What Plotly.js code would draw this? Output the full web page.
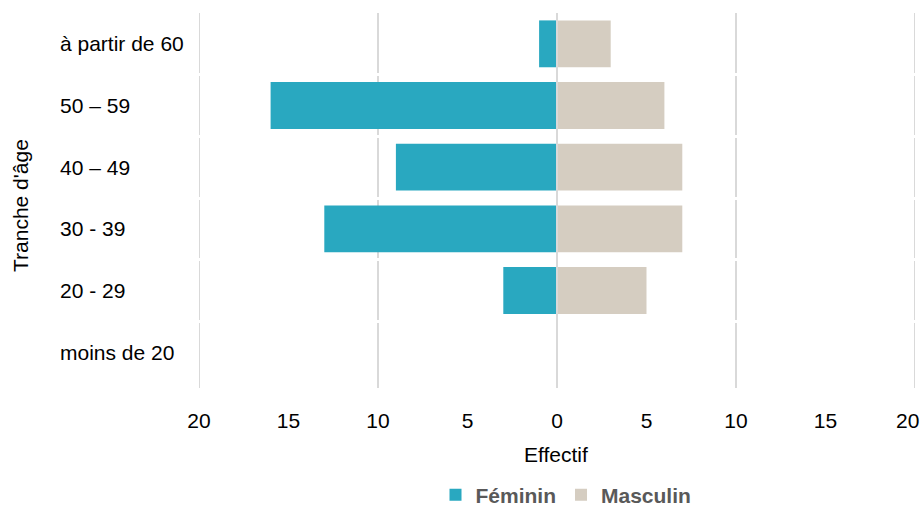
<!DOCTYPE html>
<html>
<head>
<meta charset="utf-8">
<script src="https://cdn.plot.ly/plotly-3.0.1.min.js"></script>
<style>html,body{margin:0;padding:0;background:#fff;}#chart{width:924px;height:506px;}</style>
</head>
<body>
<div id="chart"></div>
<script>
const categories = ["moins de 20", "20 - 29", "30 - 39", "40 – 49", "50 – 59", "à partir de 60"];
const feminin = [0, 3, 13, 9, 16, 1];
const masculin = [0, 5, 7, 7, 6, 3];
const tickVals = [-20, -15, -10, -5, 0, 5, 10, 15, 20];
const tickText = ["20", "15", "10", "5", "0", "5", "10", "15", "20"];
const gridVals = [-20, -10, 0, 10, 20];
const seriesNames = ["Féminin", "Masculin"];
const colors = ["#29A8C0", "#D5CDC1"];

const FONT = "Liberation Sans, Arial, sans-serif";
const FS = 21;
const L = 199, R = 9, T = 13, B = 123;
const W = 924, H = 506;
const pw = W - L - R, ph = H - T - B;
const px = v => (v - L) / pw;          // pixel x -> paper x
const py = v => (H - B - v) / ph;      // pixel y -> paper y

// the outermost right label is drawn as an annotation, nudged left to stay inside the page
const last = tickText.length - 1;
const shownTickText = tickText.map((t, i) => (i === last ? "" : t));

const traces = [
  {
    type: "bar", orientation: "h", name: seriesNames[0],
    y: categories, x: feminin.map(v => -v),
    marker: { color: colors[0], line: { width: 0 } },
    hoverinfo: "skip"
  },
  {
    type: "bar", orientation: "h", name: seriesNames[1],
    y: categories, x: masculin,
    marker: { color: colors[1], line: { width: 0 } },
    hoverinfo: "skip"
  }
];

const shapes = gridVals.map(v => ({
  type: "line", xref: "x", yref: "paper", x0: v, x1: v, y0: -5 / ph, y1: 1,
  line: { color: "#D9D9D9", width: 2 }, layer: "below"
}));
shapes.push({
  type: "line", xref: "x", yref: "paper", x0: 0, x1: 0, y0: 0, y1: 1,
  line: { color: "#D9D9D9", width: 2 }, layer: "above"
});

const annotations = categories.map(c => ({
  xref: "paper", yref: "y", x: px(58), y: c, text: c,
  xanchor: "left", yanchor: "middle", showarrow: false,
  font: { family: FONT, size: FS, color: "#000000" }
}));
annotations.push({
  xref: "x", yref: "paper", x: tickVals[last], y: py(420), text: tickText[last],
  xanchor: "right", yanchor: "middle", xshift: 6, showarrow: false,
  font: { family: FONT, size: FS, color: "#000000" }
});
annotations.push({
  xref: "paper", yref: "paper", x: px(20), y: py(206), text: "Tranche d'âge",
  textangle: -90, xanchor: "center", yanchor: "middle", showarrow: false,
  font: { family: FONT, size: FS, color: "#000000" }
});
annotations.push({
  xref: "paper", yref: "paper", x: px(556), y: py(454), text: "Effectif",
  xanchor: "center", yanchor: "middle", showarrow: false,
  font: { family: FONT, size: FS, color: "#000000" }
});

const layout = {
  width: W, height: H,
  margin: { l: L, r: R, t: T, b: B, pad: 0, autoexpand: false },
  paper_bgcolor: "#FFFFFF", plot_bgcolor: "rgba(0,0,0,0)",
  barmode: "relative", bargap: 0.24,
  font: { family: FONT, size: FS, color: "#000000" },
  xaxis: {
    range: [-20, 20], tickvals: tickVals, ticktext: shownTickText,
    showgrid: false, zeroline: false, showline: false, ticks: "",
    ticklabelstandoff: 23, ticklabeloverflow: "allow",
    tickfont: { family: FONT, size: FS, color: "#000000" },
    fixedrange: true
  },
  yaxis: {
    type: "category", categoryorder: "array", categoryarray: categories,
    tickson: "boundaries", showgrid: true, gridcolor: "#FFFFFF", gridwidth: 3,
    showticklabels: false, ticks: "", zeroline: false, showline: false,
    fixedrange: true
  },
  showlegend: true,
  legend: {
    orientation: "h", xref: "container", x: 566 / W, xanchor: "center",
    yref: "container", y: (H - 495) / H, yanchor: "middle",
    font: { family: FONT, size: FS, color: "#595959", weight: "bold" },
    itemwidth: 30, traceorder: "normal", bgcolor: "rgba(0,0,0,0)"
  },
  shapes: shapes,
  annotations: annotations
};

Plotly.newPlot("chart", traces, layout, { displayModeBar: false, staticPlot: true });
</script>
</body>
</html>
